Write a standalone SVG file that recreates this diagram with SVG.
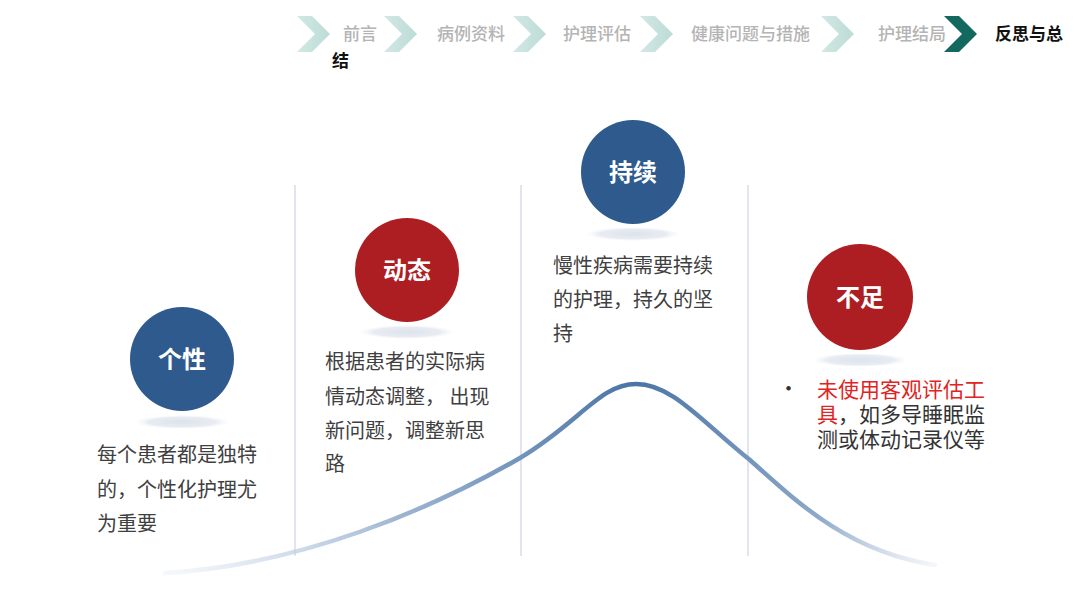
<svg xmlns="http://www.w3.org/2000/svg" width="1080" height="608" viewBox="0 0 1080 608">
<defs>
<style>
.nav{font-family:"Noto Sans CJK SC",sans-serif;font-size:17px;fill:#b4b4b4;font-weight:500}
.navcur{font-family:"Noto Sans CJK SC",sans-serif;font-size:17px;fill:#111;font-weight:700}
.lbl{font-family:"Noto Sans CJK SC",sans-serif;font-size:24px;fill:#fff;font-weight:700;text-anchor:middle}
.body{font-family:"Noto Sans CJK SC",sans-serif;font-size:20px;fill:#404040}
.body2{font-family:"Noto Sans CJK SC",sans-serif;font-size:21px;fill:#333}
.red{fill:#e02424}
.div{stroke:#cfd6e0;stroke-width:1.2}
.blue{fill:#2e5a8e}
.crim{fill:#ad1e23}
.shadow{fill:url(#sh)}
</style>
<linearGradient id="chev" x1="0" y1="0" x2="1" y2="0">
<stop offset="0" stop-color="#d2e8e4"/><stop offset="1" stop-color="#bcdcd6"/>
</linearGradient>
<polygon id="cv" points="0,0 15,0 33,18 15,36 0,36 18,18"/>
<radialGradient id="sh" cx="0.5" cy="0.5" r="0.5">
<stop offset="0" stop-color="#dde3ec"/><stop offset="0.7" stop-color="#e8ecf2"/><stop offset="1" stop-color="#f4f6f9" stop-opacity="0"/>
</radialGradient>
<linearGradient id="cg" gradientUnits="userSpaceOnUse" x1="165" y1="0" x2="935" y2="0">
<stop offset="0" stop-color="#dfe7f1" stop-opacity="0.3"/>
<stop offset="0.3" stop-color="#9fb6d2"/>
<stop offset="0.61" stop-color="#4a74a6"/>
<stop offset="0.85" stop-color="#8ea9ca"/>
<stop offset="1" stop-color="#e3eaf3" stop-opacity="0.4"/>
</linearGradient>
</defs>
<rect width="1080" height="608" fill="#fff"/>

<g id="nav">
<use href="#cv" x="297" y="16" fill="url(#chev)"/>
<text class="nav" x="343" y="40">前言</text>
<use href="#cv" x="384" y="16" fill="url(#chev)"/>
<text class="nav" x="437" y="40">病例资料</text>
<use href="#cv" x="513" y="16" fill="url(#chev)"/>
<text class="nav" x="563" y="40">护理评估</text>
<use href="#cv" x="640" y="16" fill="url(#chev)"/>
<text class="nav" x="691" y="40">健康问题与措施</text>
<use href="#cv" x="821" y="16" fill="url(#chev)"/>
<text class="nav" x="878" y="40">护理结局</text>
<use href="#cv" x="944" y="16" fill="#14695f"/>
<text class="navcur" x="995" y="40">反思与总</text>
<text class="navcur" x="332" y="67">结</text>
</g>

<g id="connectors">
<line class="div" x1="295" y1="185" x2="295" y2="556"/>
<line class="div" x1="521" y1="185" x2="521" y2="556"/>
<line class="div" x1="748" y1="185" x2="748" y2="556"/>
<path d="M165,573 C300,565 430,510 520,458 C580,422 600,384 636,384 C672,384 700,420 750,460 C800,505 850,552 935,565" fill="none" stroke="url(#cg)" stroke-width="4.5" stroke-linecap="round"/>
</g>

<g id="node-gexing">
<ellipse class="shadow" cx="182" cy="422" rx="48" ry="7"/>
<circle class="blue" cx="182" cy="359" r="52"/>
<text class="lbl" x="182" y="368">个性</text>
<text class="body" x="97" y="462">每个患者都是独特</text>
<text class="body" x="97" y="497">的，个性化护理尤</text>
<text class="body" x="97" y="531">为重要</text>
</g>

<g id="node-dongtai">
<ellipse class="shadow" cx="407" cy="332" rx="48" ry="7"/>
<circle class="crim" cx="407" cy="270" r="52"/>
<text class="lbl" x="407" y="279">动态</text>
<text class="body" x="325" y="369">根据患者的实际病</text>
<text class="body" x="325" y="404">情动态调整， 出现</text>
<text class="body" x="325" y="438">新问题，调整新思</text>
<text class="body" x="325" y="471">路</text>
</g>

<g id="node-chixu">
<ellipse class="shadow" cx="633" cy="234" rx="48" ry="7"/>
<circle class="blue" cx="633" cy="172" r="52"/>
<text class="lbl" x="633" y="181">持续</text>
<text class="body" x="553" y="273">慢性疾病需要持续</text>
<text class="body" x="553" y="307">的护理，持久的坚</text>
<text class="body" x="553" y="341">持</text>
</g>

<g id="node-buzu">
<ellipse class="shadow" cx="860" cy="360" rx="48" ry="7"/>
<circle class="crim" cx="860" cy="297" r="53"/>
<text class="lbl" x="860" y="306">不足</text>
<text class="body2" x="778" y="396">•</text>
<text class="body2" x="817" y="397"><tspan class="red">未使用客观评估工</tspan><tspan x="817" dy="25" class="red">具</tspan><tspan>，如多导睡眠监</tspan><tspan x="817" dy="25">测或体动记录仪等</tspan></text>
</g>
</svg>
